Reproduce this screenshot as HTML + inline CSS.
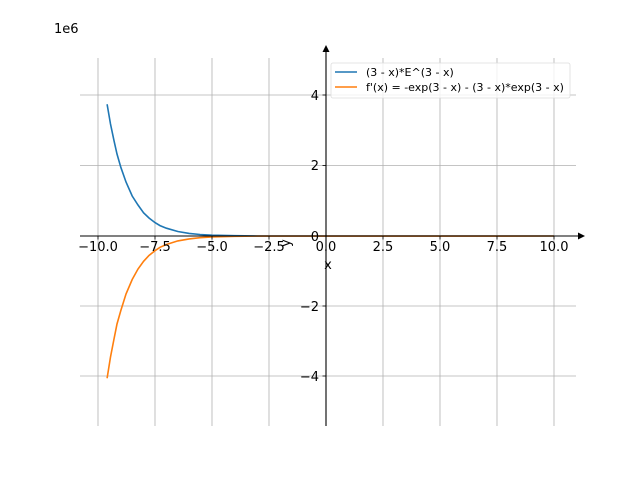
<!DOCTYPE html>
<html><head><meta charset="utf-8"><style>
html,body{margin:0;padding:0;background:#fff;}
svg{display:block;font-family:"DejaVu Sans","Liberation Sans",sans-serif;}
</style></head><body>
<svg width="640" height="480" viewBox="0 0 640 480" xmlns="http://www.w3.org/2000/svg">
<rect width="640" height="480" fill="#fff"/>
<g stroke="#b0b0b0" stroke-width="0.8">
<line x1="98" y1="58" x2="98" y2="426"/><line x1="155" y1="58" x2="155" y2="426"/>
<line x1="212" y1="58" x2="212" y2="426"/><line x1="269" y1="58" x2="269" y2="426"/>
<line x1="383" y1="58" x2="383" y2="426"/><line x1="440" y1="58" x2="440" y2="426"/>
<line x1="497" y1="58" x2="497" y2="426"/><line x1="554" y1="58" x2="554" y2="426"/>
<line x1="80" y1="95" x2="576" y2="95"/><line x1="80" y1="165.5" x2="576" y2="165.5"/>
<line x1="80" y1="306" x2="576" y2="306"/><line x1="80" y1="376" x2="576" y2="376"/>
</g>
<polyline fill="none" stroke="#1f77b4" stroke-width="1.6" points="107.1,104.3 110.5,124 114,140.7 117,154 120.8,167.2 126,182 132.2,196 138,205 143.6,212.8 149,218 155,222.6 160,225.6 166.4,228.2 177.8,231.5 189.2,233.4 200,234.5 212,235.2 234.8,235.7 257.6,236 554,236"/>
<polyline fill="none" stroke="#ff7f0e" stroke-width="1.6" points="107.1,378.2 110.5,357 114,339 117,324 120.8,310.6 126,294 132.2,279.5 138,269 143.6,261.3 149,255.5 155,250.7 160,247.3 166.4,244.5 177.8,240.9 189.2,238.9 200,237.7 212,236.9 234.8,236.3 257.6,236.1 554,236"/>
<g stroke="#000" stroke-width="1.1">
<line x1="80" y1="236" x2="580" y2="236"/>
<line x1="326" y1="426" x2="326" y2="50"/>
</g>
<polygon points="585,236 578,232.5 578,239.5" fill="#000"/>
<polygon points="326,45 322.5,52 329.5,52" fill="#000"/>
<g stroke="#000" stroke-width="0.8">
<line x1="98" y1="236" x2="98" y2="239.5"/><line x1="155" y1="236" x2="155" y2="239.5"/>
<line x1="212" y1="236" x2="212" y2="239.5"/><line x1="269" y1="236" x2="269" y2="239.5"/>
<line x1="326" y1="236" x2="326" y2="239.5"/><line x1="383" y1="236" x2="383" y2="239.5"/>
<line x1="440" y1="236" x2="440" y2="239.5"/><line x1="497" y1="236" x2="497" y2="239.5"/>
<line x1="554" y1="236" x2="554" y2="239.5"/>
<line x1="322.5" y1="95" x2="326" y2="95"/><line x1="322.5" y1="165.5" x2="326" y2="165.5"/>
<line x1="322.5" y1="236" x2="326" y2="236"/><line x1="322.5" y1="306" x2="326" y2="306"/>
<line x1="322.5" y1="376" x2="326" y2="376"/>
</g>
<g font-size="13" fill="#000" text-anchor="middle">
<text x="98" y="251">−10.0</text><text x="155" y="251">−7.5</text>
<text x="212" y="251">−5.0</text><text x="269" y="251">−2.5</text>
<text x="326" y="251">0.0</text><text x="383" y="251">2.5</text>
<text x="440" y="251">5.0</text><text x="497" y="251">7.5</text>
<text x="554" y="251">10.0</text>
</g>
<g font-size="13" fill="#000" text-anchor="end">
<text x="319" y="100">4</text><text x="319" y="170">2</text>
<text x="319" y="241">0</text><text x="319" y="311">−2</text>
<text x="319" y="381">−4</text>
</g>
<text x="54" y="33" font-size="13">1e6</text>
<text x="328" y="269" font-size="13" text-anchor="middle">x</text>
<text x="0" y="0" font-size="13" text-anchor="middle" transform="translate(290,243) rotate(-90)">y</text>
<rect x="331" y="63" width="239" height="35" fill="#fff" fill-opacity="0.8" stroke="#ddd" stroke-width="0.8" rx="2"/>
<line x1="335" y1="72" x2="357" y2="72" stroke="#1f77b4" stroke-width="1.6"/>
<line x1="335" y1="87" x2="357" y2="87" stroke="#ff7f0e" stroke-width="1.6"/>
<text x="366" y="76" font-size="11">(3 - x)*E^(3 - x)</text>
<text x="366" y="91" font-size="11">f'(x) = -exp(3 - x) - (3 - x)*exp(3 - x)</text>
</svg>
</body></html>
